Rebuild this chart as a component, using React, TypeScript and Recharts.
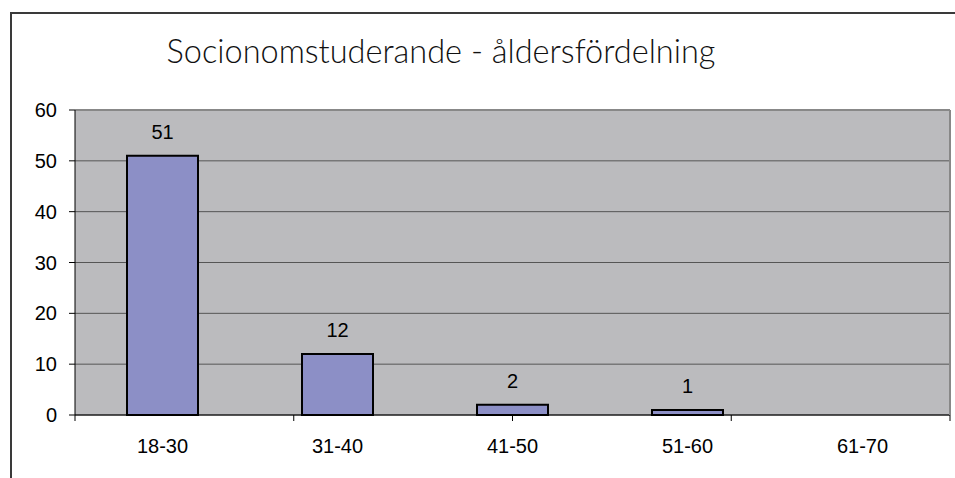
import React from 'react';
import { BarChart, Bar, XAxis, YAxis, CartesianGrid, LabelList } from 'recharts';

const title = 'Socionomstuderande - åldersfördelning';
const ageGroups = ['18-30', '31-40', '41-50', '51-60', '61-70'];
const students = [51, 12, 2, 1, 0];
const yTicks = [0, 10, 20, 30, 40, 50, 60];
// category edges, used for the tick marks between groups
const groupEdges = [0, 1, 2, 3, 4, 5];

const data = ageGroups.map((g, i) => ({ group: g, count: students[i] }));

const font = '"Liberation Sans", Arial, sans-serif';
const tickStyle = { fill: '#000', fontSize: 20, fontFamily: font };

const App: React.FC = () => {
  return (
    <div style={{ position: 'absolute', left: 0, top: 0, width: 955, height: 478, background: '#fff' }}>
      {/* chart frame (top + left edge only, rest is cropped) */}
      <div
        style={{
          position: 'absolute',
          left: 10,
          top: 12,
          width: 945,
          height: 466,
          borderTop: '2px solid #3a3a3a',
          borderLeft: '2px solid #3a3a3a',
          boxSizing: 'border-box',
        }}
      />
      <div
        style={{
          position: 'absolute',
          left: 0,
          width: 882,
          top: 31,
          textAlign: 'center',
          fontFamily: 'Lato, "Open Sans", sans-serif',
          fontWeight: 300,
          fontSize: 32.5,
          color: '#111',
        }}
      >
        {title}
      </div>
      <div style={{ position: 'absolute', left: 0, top: 0 }}>
        <BarChart width={955} height={478} data={data} margin={{ top: 109, right: 4, bottom: 0, left: 10 }}>
          <CartesianGrid xAxisId="b" vertical={false} fill="#BBBBBE" stroke="#555" strokeWidth={1} />
          {/* tick marks sit on the group edges, so they get their own numeric axis */}
          <XAxis
            xAxisId="a"
            type="number"
            domain={[0, 5]}
            ticks={groupEdges}
            allowDataOverflow
            height={1}
            tickFormatter={() => ''}
            tickSize={6}
            tickLine={{ stroke: '#000' }}
            axisLine={{ stroke: '#000' }}
          />
          <XAxis
            xAxisId="b"
            dataKey="group"
            height={62}
            tickLine={false}
            axisLine={false}
            tickSize={6}
            tickMargin={17}
            tick={tickStyle}
            interval={0}
          />
          <XAxis xAxisId="top" orientation="top" dataKey="group" height={1} tick={false} tickLine={false} axisLine={{ stroke: '#888', strokeWidth: 2 }} />
          <YAxis
            width={65}
            domain={[0, 60]}
            ticks={yTicks}
            interval={0}
            tickSize={6}
            tickMargin={12}
            tickLine={{ stroke: '#000' }}
            axisLine={{ stroke: '#000' }}
            tick={tickStyle}
          />
          <YAxis yAxisId="right" orientation="right" width={1} tick={false} tickLine={false} axisLine={{ stroke: '#888', strokeWidth: 2 }} />
          <Bar xAxisId="b" dataKey="count" fill="#8C8FC6" stroke="#000" strokeWidth={2} barSize={71} isAnimationActive={false}>
            <LabelList
              dataKey="count"
              position="top"
              offset={17}
              fill="#000"
              fontSize={20}
              fontFamily={font}
              formatter={(v: any) => (v === 0 ? '' : v)}
            />
          </Bar>
        </BarChart>
      </div>
    </div>
  );
};

export default App;
